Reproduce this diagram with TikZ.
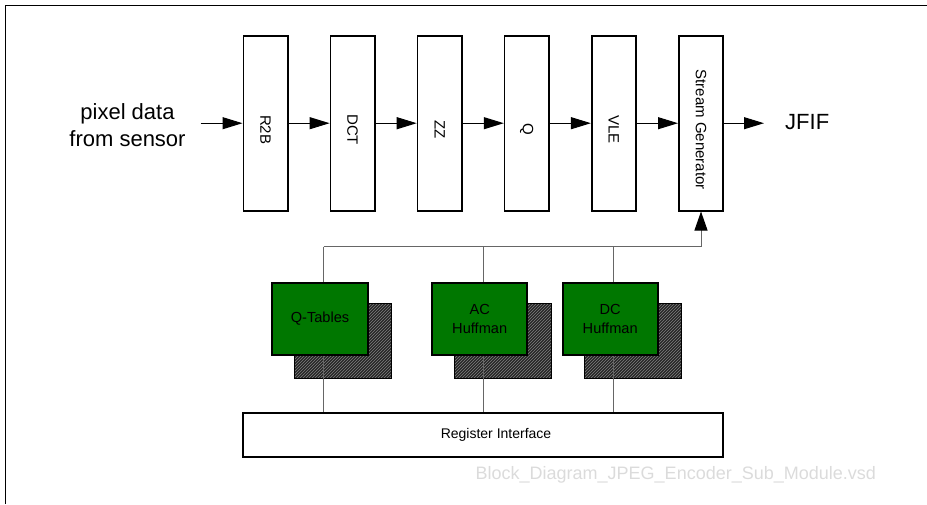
\documentclass[tikz,border=0pt]{standalone}
\usepackage{fontspec}
\setmainfont{Liberation Sans}
\usepackage{graphicx}
\usetikzlibrary{positioning, arrows.meta, backgrounds, patterns}

\definecolor{tablegreen}{RGB}{0,119,0}
\newcommand{\vlabel}[1]{\rotatebox{-90}{\hspace{13pt}#1}}

\begin{document}
\begin{tikzpicture}[x=1pt, y=1pt, >={Triangle[length=20pt, width=12pt]},
  node distance=87.1pt, on grid,
  stage/.style={draw, line width=1.6pt, minimum width=44.4pt, minimum height=175pt, inner sep=0pt, font=\fontsize{15}{18}\selectfont},
  lut/.style={draw, line width=2pt, fill=tablegreen, minimum width=95.4pt, minimum height=72.6pt, align=center, font=\fontsize{14.6}{18.7}\selectfont},
  wire/.style={draw=black!60, line width=1pt},
  flow/.style={->, line width=1pt},
  hatch/.style={preaction={fill=black!85}, pattern=north east lines, pattern color=black!50, draw=black, line width=1pt},
  big/.style={font=\fontsize{22}{27}\selectfont, align=center}]
  \useasboundingbox (0,0) rectangle (927,-504);
  \draw[line width=1.2pt] (5.5,-504) |- (927,-5.5);

  % pipeline
  \node[stage] (r2b) at (265.5,-123.2) {\vlabel{R2B}};
  \node[stage] (dct) [right=of r2b] {\vlabel{DCT}};
  \node[stage] (zz)  [right=of dct] {\vlabel{ZZ}};
  \node[stage] (q)   [right=of zz]  {\vlabel{Q}};
  \node[stage] (vle) [right=of q]   {\vlabel{VLE}};
  \node[stage] (sg)  [right=of vle] {\vlabel{Stream Generator}};

  \node[big] (pix) at (127.5,-125) {pixel data\\from sensor};
  \coordinate (src) at (200.7,-123.2);
  \coordinate (dst) at (764,-123.2);
  \node[big, anchor=west, inner sep=0pt] (jfif) at (785,-122) {JFIF};

  \draw[flow] (src) -- (r2b);
  \foreach \a/\b in {r2b/dct, dct/zz, zz/q, q/vle, vle/sg}
    \draw[flow] (\a) -- (\b);
  \draw[flow] (sg) -- (dst);

  % tables and register interface
  \node[lut] (qt) at (320,-319) {Q-Tables};
  \node[lut] (ac) at (479.7,-319) {AC\\Huffman};
  \node[lut] (dc) at (610.2,-319) {DC\\Huffman};
  \node[draw, line width=2pt, minimum width=480pt, minimum height=44.3pt,
    label={[xshift=13pt, font=\fontsize{14}{16}\selectfont]center:Register Interface}] (reg) at (483,-434.9) {};

  \begin{scope}[on background layer]
    \foreach \t in {qt, ac, dc}
      \path[hatch] ([shift={(23,-22)}]\t.south west) rectangle ([shift={(23,-22)}]\t.north east);
    \coordinate (bus) at (0,-246.7);
    \foreach \t in {qt, ac, dc}
      \draw[wire] ([xshift=3.5pt]\t.center |- bus) -- ([xshift=3.5pt]\t.center |- reg.north);
    \draw[wire, -{Triangle[length=19pt, width=13pt, color=black]}] ([xshift=3.5pt]qt.center |- bus) -| (sg.south);
  \end{scope}

  \node[font=\fontsize{18}{20}\selectfont, text=black!14] (file) at (675.8,-475) {Block\_Diagram\_JPEG\_Encoder\_Sub\_Module.vsd};
\end{tikzpicture}
\end{document}
